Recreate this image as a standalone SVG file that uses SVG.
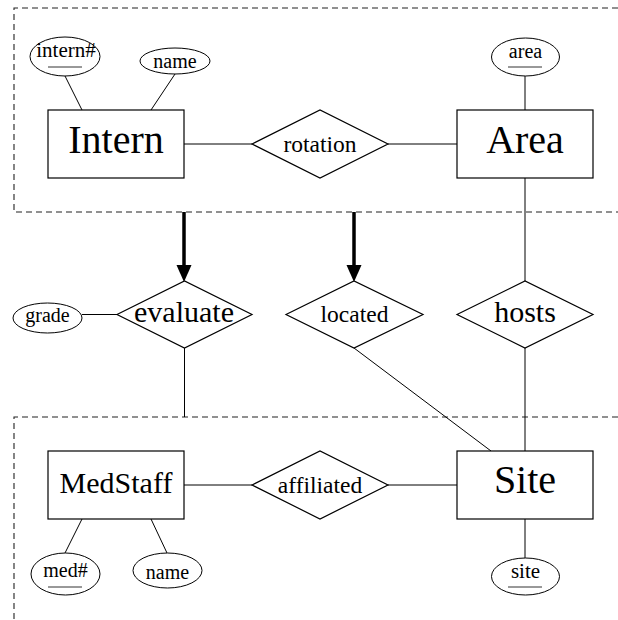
<svg xmlns="http://www.w3.org/2000/svg" width="618" height="620" viewBox="0 0 618 620">
<style>
.box{fill:#fff;stroke:#000;stroke-width:1.2}
.ell{fill:#fff;stroke:#000;stroke-width:1}
.ln{stroke:#000;stroke-width:1;fill:none}
.thick{stroke:#000;stroke-width:3.5;fill:none}
.dash{stroke:#222;stroke-width:1.1;stroke-dasharray:6 4;fill:none}
.ul{stroke:#333;stroke-width:1}
text{font-family:'Liberation Serif','Times New Roman',serif;fill:#000;text-anchor:middle}
.big{font-size:40px}
.mid{font-size:30px}
.rel{font-size:23.5px}
.att{font-size:20px}
</style>
<g id="groups">
<path class="dash" d="M618,8 H14 V212 H618"/>
<path class="dash" d="M618,417 H14 V620"/>
</g>
<g id="connectors">
<line class="ln" x1="65" y1="76" x2="82" y2="110"/>
<line class="ln" x1="175" y1="74" x2="151" y2="110"/>
<line class="ln" x1="184" y1="144" x2="252" y2="144"/>
<line class="ln" x1="388" y1="144" x2="457" y2="144"/>
<line class="ln" x1="525" y1="76" x2="525" y2="110"/>
<line class="ln" x1="525" y1="178" x2="525" y2="281"/>
<line class="ln" x1="525" y1="348" x2="525" y2="451"/>
<line class="thick" x1="184" y1="212" x2="184" y2="266"/>
<path d="M176.5,265 L191.5,265 L184,282 Z" fill="#000"/>
<line class="thick" x1="354" y1="212" x2="354" y2="266"/>
<path d="M346.5,265 L361.5,265 L354,282 Z" fill="#000"/>
<line class="ln" x1="82" y1="314.5" x2="117" y2="314.5"/>
<line class="ln" x1="184.5" y1="348" x2="184.5" y2="417"/>
<line class="ln" x1="354" y1="348" x2="491" y2="451"/>
<line class="ln" x1="184" y1="485" x2="252" y2="485"/>
<line class="ln" x1="388" y1="485" x2="457" y2="485"/>
<line class="ln" x1="82" y1="519" x2="65" y2="553"/>
<line class="ln" x1="151" y1="519" x2="167" y2="553"/>
<line class="ln" x1="525" y1="519" x2="525" y2="558"/>
</g>
<g id="intern">
<rect class="box" x="48" y="110" width="136" height="68"/>
<text class="big" x="116" y="153">Intern</text>
</g>
<g id="intern-num">
<ellipse class="ell" cx="65" cy="56.5" rx="35" ry="19.5"/>
<text class="att" x="66" y="57" style="font-size:21px">intern#</text>
<line class="ul" x1="48" y1="67" x2="82" y2="67"/>
</g>
<g id="intern-name">
<ellipse class="ell" cx="175" cy="61" rx="35" ry="13"/>
<text class="att" x="175" y="68">name</text>
</g>
<g id="rotation">
<polygon class="box" points="252,144 320,110 388,144 320,178"/>
<text class="rel" x="320" y="152">rotation</text>
</g>
<g id="area">
<rect class="box" x="457" y="110" width="136" height="68"/>
<text class="big" x="525" y="153">Area</text>
</g>
<g id="area-attr">
<ellipse class="ell" cx="525.5" cy="57" rx="34" ry="19"/>
<text class="att" x="525.5" y="58">area</text>
<line class="ul" x1="508" y1="67" x2="542" y2="67"/>
</g>
<g id="grade">
<ellipse class="ell" cx="47.5" cy="318" rx="34.5" ry="15"/>
<text class="att" x="47.5" y="322">grade</text>
</g>
<g id="evaluate">
<polygon class="box" points="117,314.5 184.5,281 252,314.5 184.5,348"/>
<text class="mid" x="184" y="322">evaluate</text>
</g>
<g id="located">
<polygon class="box" points="286,314.5 354,281 423,314.5 354,348"/>
<text class="rel" x="354.5" y="322">located</text>
</g>
<g id="hosts">
<polygon class="box" points="457,314.5 525,281 593,314.5 525,348"/>
<text class="mid" x="525" y="322">hosts</text>
</g>
<g id="medstaff">
<rect class="box" x="48" y="451" width="136" height="68"/>
<text class="mid" x="116" y="493">MedStaff</text>
</g>
<g id="med-num">
<ellipse class="ell" cx="65.5" cy="574" rx="34.5" ry="21"/>
<text class="att" x="65.5" y="577">med#</text>
<line class="ul" x1="48" y1="587" x2="82" y2="587"/>
</g>
<g id="med-name">
<ellipse class="ell" cx="167.5" cy="570.5" rx="34.5" ry="17.5"/>
<text class="att" x="167.5" y="579">name</text>
</g>
<g id="affiliated">
<polygon class="box" points="252,485 320,451 388,485 320,519"/>
<text class="rel" x="320" y="493">affiliated</text>
</g>
<g id="site">
<rect class="box" x="457" y="451" width="136" height="68"/>
<text class="big" x="525" y="493">Site</text>
</g>
<g id="site-attr">
<ellipse class="ell" cx="525.5" cy="576.5" rx="34" ry="18.5"/>
<text class="att" x="525.5" y="578" style="font-size:21px">site</text>
<line class="ul" x1="508" y1="587" x2="542" y2="587"/>
</g>
</svg>
